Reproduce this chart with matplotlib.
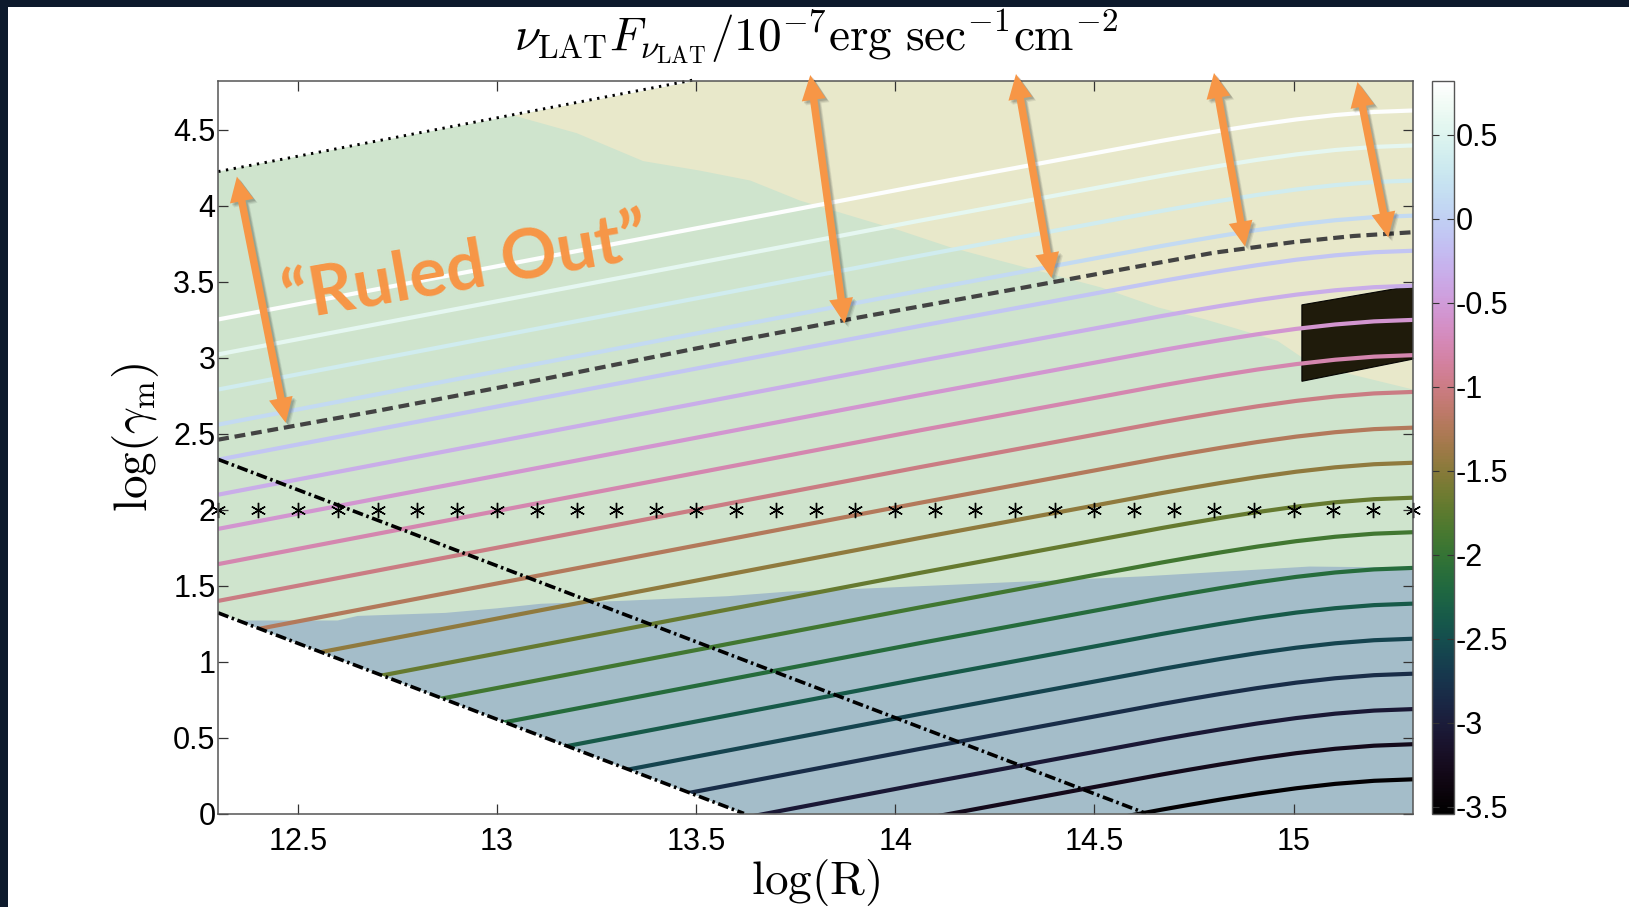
import numpy as np
import matplotlib
matplotlib.use("Agg")
import matplotlib.pyplot as plt
from matplotlib.patches import Polygon, Rectangle
from matplotlib import colors, cm

plt.rcParams['mathtext.fontset'] = 'cm'
plt.rcParams['axes.unicode_minus'] = False
plt.rcParams['font.family'] = ['Liberation Sans', 'DejaVu Sans']

W, H = 1629, 907

# plane limits: log(R) and log(gamma_m)
R_lim = (12.3, 15.3)
g_lim = (0.0, 4.82)

# contour levels of log(nuF_nu) and where each curve meets the right edge
levels = [-3.5, -3.27, -3.05, -2.82, -2.59, -2.37, -2.14, -1.91, -1.69, -1.46,
          -1.24, -1.01, -0.78, -0.56, -0.33, -0.11, 0.12, 0.35, 0.57, 0.80]
g_right = [0.225, 0.456, 0.687, 0.920, 1.150, 1.381, 1.616, 1.851, 2.078, 2.308,
           2.539, 2.774, 3.016, 3.248, 3.473, 3.703, 3.934, 4.165, 4.396, 4.626]
# shape of the curves, offset from the right-edge value
prof_R = [12.3, 13.0, 13.5, 14.0, 14.4, 14.6, 14.7, 14.8, 14.9, 15.0, 15.1, 15.2, 15.3]
prof_dg = [-1.375, -1.025, -0.775, -0.525, -0.33, -0.232, -0.185, -0.14, -0.098,
           -0.061, -0.031, -0.01, 0.0]

# "ruled out" boundary (dashed)
ruled_R = [12.3, 12.7, 13.1, 13.5, 13.9, 14.3, 14.6, 14.8, 15.0, 15.15, 15.3]
ruled_g = [2.46, 2.65, 2.85, 3.06, 3.26, 3.45, 3.595, 3.69, 3.76, 3.80, 3.825]

# limit lines
dotted_R = [12.3, 13.5]
dotted_g = [4.224, 4.83]
dd_low_R = [12.3, 13.62]
dd_low_g = [1.32, 0.0]
dd_up_R = [12.3, 14.63]
dd_up_g = [2.33, 0.0]

# shaded regions
beige_R = [13.04, 13.2, 13.367, 13.51, 13.636, 13.761, 13.887, 14.013, 14.138,
           14.264, 14.39, 14.516, 14.66, 14.78, 14.96, 15.05, 15.3]
beige_g = [4.594, 4.477, 4.293, 4.23, 4.165, 4.033, 3.934, 3.835, 3.726,
           3.637, 3.55, 3.462, 3.33, 3.25, 3.11, 2.95, 2.79]
blue_R = [12.3, 12.35, 12.6, 12.65, 12.87, 13.0, 13.11, 13.32, 13.58, 13.73,
          13.92, 14.1, 14.36, 14.62, 14.88, 15.04, 15.22, 15.3]
blue_g = [1.29, 1.27, 1.27, 1.30, 1.32, 1.35, 1.38, 1.40, 1.43, 1.46,
          1.48, 1.50, 1.53, 1.56, 1.60, 1.625, 1.62, 1.60]

# observed box
box_R = [15.021, 15.3, 15.3, 15.021]
box_g = [3.347, 3.473, 2.99, 2.844]

# gamma_m = 100 row
star_R = [12.3, 12.4, 12.5, 12.6, 12.7, 12.8, 12.9, 13.0, 13.1, 13.2, 13.3,
          13.4, 13.5, 13.6, 13.7, 13.8, 13.9, 14.0, 14.1, 14.2, 14.3, 14.4,
          14.5, 14.6, 14.7, 14.8, 14.9, 15.0, 15.1, 15.2, 15.3]
star_g = 2.0

cb_lim = (-3.54, 0.82)
cb_ticks = [-3.5, -3.0, -2.5, -2.0, -1.5, -1.0, -0.5, 0.0, 0.5]

# annotation arrows, figure pixels (y down)
arr_x0 = [236.9, 810.3, 1016.0, 1214.0, 1357.5]
arr_y0 = [176.6, 75.0, 74.0, 73.0, 82.0]
arr_x1 = [285.7, 844.5, 1051.5, 1245.0, 1388.3]
arr_y1 = [422.8, 323.5, 278.0, 246.5, 237.5]

orange = '#f79646'
green_bg = '#cfe4cd'
beige_bg = '#e8e8ca'
blue_bg = '#a4bdc9'

fig = plt.figure(figsize=(W / 100, H / 100), dpi=100, facecolor='white')
# dark slide border
fig.add_artist(Rectangle((0, 1 - 7 / H), 1, 7 / H, transform=fig.transFigure,
                         facecolor='#0d1a2c', edgecolor='none', zorder=-5))
fig.add_artist(Rectangle((0, 0), 8 / W, 1, transform=fig.transFigure,
                         facecolor='#0d1a2c', edgecolor='none', zorder=-5))

ax = fig.add_axes([218.2 / W, 1 - 813.5 / H, (1413 - 218.2) / W, (813.5 - 81) / H])
ax.set_xlim(*R_lim)
ax.set_ylim(*g_lim)

# allowed region: above the lower dash-dot line and below the dotted line
valid = Polygon([(dd_low_R[0], dd_low_g[0]), (dd_low_R[1], dd_low_g[1]),
                 (R_lim[1], 0.0), (R_lim[1], g_lim[1]),
                 (dotted_R[1], g_lim[1]), (dotted_R[0], dotted_g[0])],
                closed=True, facecolor=green_bg, edgecolor='none', zorder=0.5)
ax.add_patch(valid)

beige = Polygon(list(zip(beige_R, beige_g)) + [(15.4, 5.0), (13.04, 5.0)],
                closed=True, facecolor=beige_bg, edgecolor='none', zorder=0.6)
ax.add_patch(beige)
beige.set_clip_path(valid)

blue = Polygon(list(zip(blue_R, blue_g)) + [(15.3, 0.0), (12.3, 0.0)],
               closed=True, facecolor=blue_bg, edgecolor='none', zorder=0.7)
ax.add_patch(blue)
blue.set_clip_path(valid)

box = Polygon(list(zip(box_R, box_g)), closed=True, facecolor='#141000',
              alpha=0.95, edgecolor='black', lw=0.8, zorder=2)
ax.add_patch(box)

cmap = plt.get_cmap('cubehelix')
norm = colors.Normalize(*cb_lim)

Rf = np.linspace(R_lim[0], R_lim[1], 400)
dg = np.interp(Rf, prof_R, prof_dg)
for lev, gr in zip(levels, g_right):
    ln, = ax.plot(Rf, gr + dg, color=cmap(norm(lev)), lw=3.0, zorder=3,
                  solid_capstyle='butt')
    ln.set_clip_path(valid)

ax.plot(ruled_R, ruled_g, color='#434343', lw=3.0, zorder=4,
        linestyle=(0, (2.6, 1.4)))
ax.plot(dotted_R, dotted_g, color='black', lw=2.1, zorder=4,
        linestyle=(0, (0.8, 1.9)), clip_on=False)
ax.plot(dd_low_R, dd_low_g, color='black', lw=2.6, zorder=4,
        linestyle=(0, (3.0, 1.0, 0.7, 1.0)))
ax.plot(dd_up_R, dd_up_g, color='black', lw=2.6, zorder=4,
        linestyle=(0, (3.0, 1.0, 0.7, 1.0)))
ax.plot(star_R, [star_g] * len(star_R), linestyle='none', marker=(6, 2, 0),
        markersize=11, markeredgewidth=1.0, color='black', zorder=5, clip_on=False)

ax.set_xticks([12.5, 13.0, 13.5, 14.0, 14.5, 15.0])
ax.set_xticklabels(['12.5', '13', '13.5', '14', '14.5', '15'])
ax.set_yticks([0, 0.5, 1, 1.5, 2, 2.5, 3, 3.5, 4, 4.5])
ax.set_yticklabels(['0', '0.5', '1', '1.5', '2', '2.5', '3', '3.5', '4', '4.5'])
ax.tick_params(direction='in', top=True, right=True, length=7.5, width=0.9,
               color='#333333', labelsize=22)
ax.tick_params(axis='x', pad=10)
ax.tick_params(axis='y', pad=2)
for sp in ax.spines.values():
    sp.set_color('#555555')
    sp.set_linewidth(1.1)
    sp.set_zorder(6)

ax.set_title(r'$\nu_{\rm LAT}F_{\nu_{\rm LAT}}/10^{-7}{\rm erg\ sec^{-1}cm^{-2}}$',
             fontsize=34, y=1.031, va='baseline')
ax.set_xlabel(r'$\mathrm{log(R)}$', fontsize=34, va='center')
ax.xaxis.set_label_coords(0.5, -0.094)
ax.set_ylabel(r'$\mathrm{log}(\gamma_{\mathrm{m}})$', fontsize=34, va='center')
ax.yaxis.set_label_coords(-0.0696, 0.513)

# colour bar
cax = fig.add_axes([1431.6 / W, 1 - 813.5 / H, 22.9 / W, (813.5 - 81) / H])
sm = cm.ScalarMappable(norm=norm, cmap=cmap)
cb = fig.colorbar(sm, cax=cax, ticks=cb_ticks)
cb.ax.set_yticklabels(['-3.5', '-3', '-2.5', '-2', '-1.5', '-1', '-0.5', '0', '0.5'])
cb.ax.tick_params(direction='in', left=True, right=True, length=5, width=0.8,
                  color='#333333', labelsize=22, pad=1)
cb.outline.set_edgecolor('#555555')
cb.outline.set_linewidth(1.0)


def double_arrow(x0, y0, x1, y1, shaft=7.5, head_w=24.0, head_l=25.0):
    p0 = np.array([x0, y0])
    p1 = np.array([x1, y1])
    d = p1 - p0
    u = d / np.hypot(*d)
    n = np.array([-u[1], u[0]])
    a = p0 + u * head_l
    b = p1 - u * head_l
    pts = [p0, a + n * head_w / 2, a + n * shaft / 2, b + n * shaft / 2,
           b + n * head_w / 2, p1, b - n * head_w / 2, b - n * shaft / 2,
           a - n * shaft / 2, a - n * head_w / 2]
    return np.array(pts)


def to_fig(pts):
    return np.column_stack([pts[:, 0] / W, 1 - pts[:, 1] / H])


for x0, y0, x1, y1 in zip(arr_x0, arr_y0, arr_x1, arr_y1):
    pts = double_arrow(x0, y0, x1, y1)
    for off, al in [(4, 0.08), (3, 0.10), (2, 0.12)]:
        fig.add_artist(Polygon(to_fig(pts + off), closed=True, transform=fig.transFigure,
                               facecolor='black', edgecolor='none', alpha=al, zorder=8))
    fig.add_artist(Polygon(to_fig(pts), closed=True, transform=fig.transFigure,
                           facecolor=orange, edgecolor='none', zorder=9))

fig.text(466 / W, 1 - 270 / H, '\u201cRuled Out\u201d', color=orange,
         family=['Lato', 'DejaVu Sans'], weight='bold', fontsize=50,
         rotation=10, rotation_mode='anchor', ha='center', va='center', zorder=10)

fig.savefig('out.png', dpi=100, facecolor=fig.get_facecolor())
